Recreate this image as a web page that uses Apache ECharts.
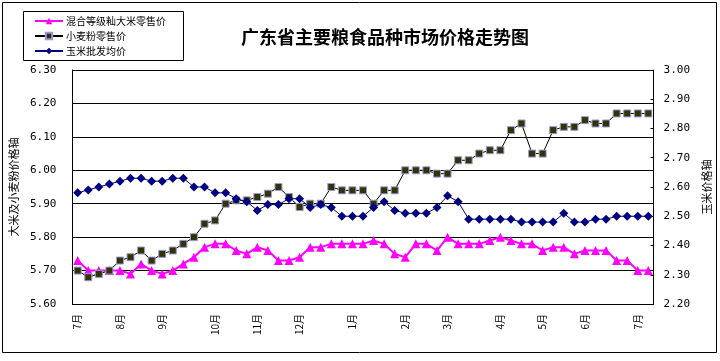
<!DOCTYPE html>
<html>
<head>
<meta charset="utf-8">
<script src="https://cdn.jsdelivr.net/npm/echarts@6/dist/echarts.min.js"></script>
<style>
html,body{margin:0;padding:0;background:#fff;}
#main{width:720px;height:361px;}
</style>
</head>
<body>
<div id="main"></div>
<script>
var categories = ['7月','','','','8月','','','','9月','','','','','10月','','','','11月','','','','12月','','','','','1月','','','','','2月','','','','3月','','','','','4月','','','','5月','','','','6月','','','','','7月',''];
var rice = [5.73,5.70,5.70,5.70,5.70,5.69,5.72,5.70,5.69,5.70,5.72,5.74,5.77,5.78,5.78,5.76,5.75,5.77,5.76,5.73,5.73,5.74,5.77,5.77,5.78,5.78,5.78,5.78,5.79,5.78,5.75,5.74,5.78,5.78,5.76,5.80,5.78,5.78,5.78,5.79,5.80,5.79,5.78,5.78,5.76,5.77,5.77,5.75,5.76,5.76,5.76,5.73,5.73,5.70,5.70];
var wheat = [5.70,5.68,5.69,5.70,5.73,5.74,5.76,5.73,5.75,5.76,5.78,5.80,5.84,5.85,5.90,5.91,5.91,5.92,5.93,5.95,5.92,5.89,5.90,5.90,5.95,5.94,5.94,5.94,5.90,5.94,5.94,6.00,6.00,6.00,5.99,5.99,6.03,6.03,6.05,6.06,6.06,6.12,6.14,6.05,6.05,6.12,6.13,6.13,6.15,6.14,6.14,6.17,6.17,6.17,6.17];
var corn = [2.58,2.59,2.60,2.61,2.62,2.63,2.63,2.62,2.62,2.63,2.63,2.60,2.60,2.58,2.58,2.56,2.55,2.52,2.54,2.54,2.56,2.56,2.53,2.54,2.53,2.50,2.50,2.50,2.53,2.55,2.52,2.51,2.51,2.51,2.53,2.57,2.55,2.49,2.49,2.49,2.49,2.49,2.48,2.48,2.48,2.48,2.51,2.48,2.48,2.49,2.49,2.50,2.50,2.50,2.50];
var seriesNames = ['混合等级籼大米零售价','小麦粉零售价','玉米批发均价'];
var titleText = '广东省主要粮食品种市场价格走势图';
var leftAxisName = '大米及小麦粉价格轴';
var rightAxisName = '玉米价格轴';

var chart = echarts.init(document.getElementById('main'), null, {renderer:'canvas'});
var cjk = '"Noto Sans CJK SC", sans-serif';
var mono = '"DejaVu Sans Mono", monospace';
chart.setOption({
  animation:false,
  backgroundColor:'#fff',
  title:{text:titleText,left:236,top:23,textStyle:{fontSize:18,fontWeight:'bold',color:'#000',fontFamily:cjk}},
  graphic:[
    {type:'rect',shape:{x:2.5,y:2.5,width:714,height:350},style:{fill:'none',stroke:'#000',lineWidth:1},silent:true},
    {type:'rect',shape:{x:23.5,y:11.5,width:160,height:49},style:{fill:'none',stroke:'#000',lineWidth:1},silent:true}
  ],
  legend:{orient:'vertical',left:34,top:16,padding:0,itemWidth:28,itemHeight:8,itemGap:5,
    textStyle:{fontSize:10,color:'#000',fontFamily:cjk,padding:[0,0,0,-2]},data:seriesNames},
  grid:{left:64,right:66,top:70,bottom:57,containLabel:false},
  xAxis:{type:'category',data:categories,boundaryGap:true,
    axisLine:{lineStyle:{color:'#000',width:1}},
    axisTick:{inside:true,length:3,alignWithLabel:false,interval:0,lineStyle:{color:'#000'}},
    axisLabel:{interval:0,rotate:90,margin:10,fontSize:10,color:'#000',fontFamily:cjk},
    splitLine:{show:false}},
  yAxis:[
    {type:'value',min:5.6,max:6.3,interval:0.1,position:'left',
     name:leftAxisName,nameLocation:'middle',nameRotate:90,nameGap:46,
     nameTextStyle:{fontSize:11,color:'#000',fontFamily:cjk},
     axisLine:{show:true,lineStyle:{color:'#000'}},
     axisTick:{show:true,inside:true,length:5,lineStyle:{color:'#000'}},
     axisLabel:{margin:16,fontSize:11,color:'#000',fontFamily:mono,formatter:function(v){return v.toFixed(2);}},
     splitLine:{show:true,lineStyle:{color:'#000',width:1}}},
    {type:'value',min:2.2,max:3.0,interval:0.1,position:'right',
     name:rightAxisName,nameLocation:'middle',nameRotate:90,nameGap:40,
     nameTextStyle:{fontSize:11,color:'#000',fontFamily:cjk},
     axisLine:{show:true,lineStyle:{color:'#000'}},
     axisTick:{show:true,inside:true,length:3,lineStyle:{color:'#000'}},
     axisLabel:{margin:10,fontSize:11,color:'#000',fontFamily:mono,formatter:function(v){return v.toFixed(2);}},
     splitLine:{show:false}}
  ],
  series:[
    {name:seriesNames[0],type:'line',yAxisIndex:0,data:rice,symbol:'triangle',symbolSize:9,
     lineStyle:{color:'#FF00FF',width:2},itemStyle:{color:'#FF00FF'},z:3},
    {name:seriesNames[1],type:'line',yAxisIndex:0,data:wheat,symbol:'rect',symbolSize:7,
     lineStyle:{color:'#000',width:1},itemStyle:{color:'#333300',borderColor:'#9999DD',borderWidth:1},z:4},
    {name:seriesNames[2],type:'line',yAxisIndex:1,data:corn,symbol:'diamond',symbolSize:9,
     lineStyle:{color:'#000080',width:1},itemStyle:{color:'#000080'},z:5}
  ]
});
</script>
</body>
</html>
